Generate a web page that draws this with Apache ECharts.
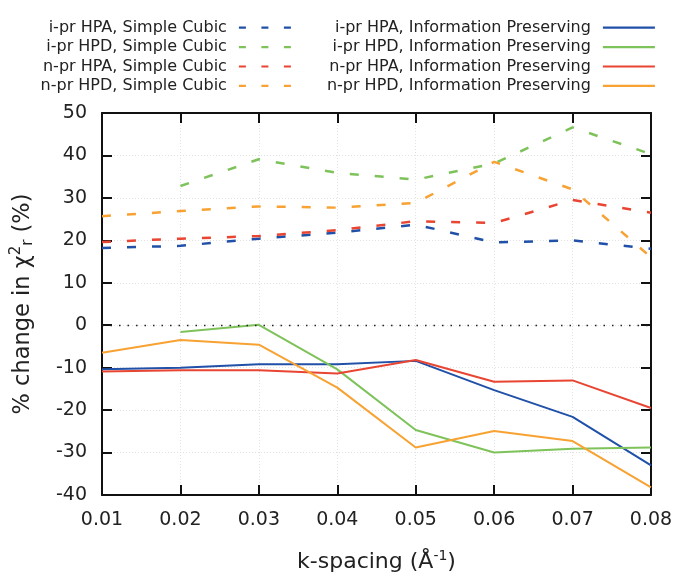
<!DOCTYPE html>
<html>
<head>
<meta charset="utf-8">
<script src="https://cdn.jsdelivr.net/npm/echarts@6/dist/echarts.min.js"></script>
<style>
  html, body { margin: 0; padding: 0; background: #fff; }
  #chart { width: 681px; height: 575px; }
</style>
</head>
<body>
<div id="chart"></div>
<script>
// k-spacing categories
var kSpacing = ['0.01', '0.02', '0.03', '0.04', '0.05', '0.06', '0.07', '0.08'];
var yTicks = [-40, -30, -20, -10, 0, 10, 20, 30, 40, 50];

// Simple Cubic (dashed)
var iprHpaSC = [18.2, 18.7, 20.4, 21.8, 23.7, 19.5, 20.0, 18.0];
var iprHpdSC = [null, 32.8, 39.1, 35.9, 34.3, 38.1, 46.6, 40.3];
var nprHpaSC = [19.6, 20.4, 21.0, 22.4, 24.5, 24.1, 29.5, 26.5];
var nprHpdSC = [25.7, 26.9, 28.0, 27.7, 28.8, 38.5, 32.0, 16.0];

// Information Preserving (solid)
var iprHpaIP = [-10.4, -10.0, -9.2, -9.2, -8.4, -15.3, -21.6, -33.0];
var iprHpdIP = [null, -1.6, 0.1, -10.4, -24.7, -30.0, -29.1, -28.8];
var nprHpaIP = [-10.9, -10.6, -10.6, -11.4, -8.2, -13.3, -13.0, -19.5];
var nprHpdIP = [-6.5, -3.5, -4.6, -14.7, -28.8, -24.9, -27.3, -38.2];

var BLUE = '#2050a8', GREEN = '#7ec25a', RED = '#e84532', ORANGE = '#f7a232';
var FONT = 'DejaVu Sans';

function dashed(name, data, color) {
    return {
        name: name, type: 'line', data: data, symbol: 'none',
        connectNulls: false,
        lineStyle: { color: color, width: 2.5, type: [9, 16] },
        itemStyle: { color: color }
    };
}
function solid(name, data, color) {
    return {
        name: name, type: 'line', data: data, symbol: 'none',
        connectNulls: false,
        lineStyle: { color: color, width: 2 },
        itemStyle: { color: color }
    };
}

var scNames = ['i-pr HPA, Simple Cubic', 'i-pr HPD, Simple Cubic', 'n-pr HPA, Simple Cubic', 'n-pr HPD, Simple Cubic'];
var ipNames = ['i-pr HPA, Information Preserving', 'i-pr HPD, Information Preserving', 'n-pr HPA, Information Preserving', 'n-pr HPD, Information Preserving'];

var series = [
    dashed(scNames[0], iprHpaSC, BLUE),
    dashed(scNames[1], iprHpdSC, GREEN),
    dashed(scNames[2], nprHpaSC, RED),
    dashed(scNames[3], nprHpdSC, ORANGE),
    solid(ipNames[0], iprHpaIP, BLUE),
    solid(ipNames[1], iprHpdIP, GREEN),
    solid(ipNames[2], nprHpaIP, RED),
    solid(ipNames[3], nprHpdIP, ORANGE)
];
// zero line
series[0].markLine = {
    silent: true, symbol: 'none', label: { show: false },
    lineStyle: { color: '#222', width: 1.3, type: [1.5, 7] },
    data: [{ yAxis: 0 }]
};

var legendCommon = {
    orient: 'vertical', align: 'right', top: 13,
    itemWidth: 52, itemHeight: 14, itemGap: 0,
    itemStyle: { opacity: 0 },
    textStyle: { fontFamily: FONT, fontSize: 16, color: '#222', lineHeight: 19.4, padding: [0, 7, 0, 0] }
};

var axisLineStyle = { onZero: false, lineStyle: { color: '#111', width: 2 } };
var tickStyle = { show: true, inside: true, length: 10, lineStyle: { color: '#111', width: 2 } };
var gridLine = { show: true, lineStyle: { color: '#e2e2e2', type: [1, 2] } };

var option = {
    backgroundColor: '#fff',
    animation: false,
    grid: { left: 102, right: 30, top: 113, bottom: 80, outerBoundsMode: 'none', containLabel: false },
    legend: [
        Object.assign({}, legendCommon, {
            right: 384,
            data: scNames.map(function (n) { return { name: n, lineStyle: { type: [7, 15.5], width: 2.2 } }; })
        }),
        Object.assign({}, legendCommon, {
            right: 20,
            data: ipNames.map(function (n) { return { name: n, lineStyle: { width: 2.2 } }; })
        })
    ],
    xAxis: [{
        type: 'category', data: kSpacing, boundaryGap: false,
        axisLine: axisLineStyle, axisTick: tickStyle,
        axisLabel: { fontFamily: FONT, fontSize: 19, color: '#222', margin: 16 },
        splitLine: gridLine,
        name: '{t|k-spacing (Å}{s|-1}{t|)}',
        nameLocation: 'middle', nameGap: 54,
        nameTextStyle: {
            rich: {
                t: { fontFamily: FONT, fontSize: 22, color: '#222' },
                s: { fontFamily: FONT, fontSize: 14, color: '#222', padding: [0, 0, 12, 0] }
            }
        }
    }, {
        type: 'category', data: kSpacing, boundaryGap: false, position: 'top',
        axisLine: axisLineStyle, axisTick: tickStyle, axisLabel: { show: false }, splitLine: { show: false }
    }],
    yAxis: [{
        type: 'value', min: -40, max: 50, interval: 10,
        axisLine: Object.assign({ show: true }, axisLineStyle), axisTick: tickStyle,
        axisLabel: { fontFamily: FONT, fontSize: 19, color: '#222', margin: 15 },
        splitLine: gridLine,
        name: '{t|% change in χ}{s|2}{b|r}{t| (%)}',
        nameLocation: 'middle', nameGap: 64, nameRotate: 90,
        nameTextStyle: {
            rich: {
                t: { fontFamily: FONT, fontSize: 22.5, color: '#222' },
                s: { fontFamily: FONT, fontSize: 15, color: '#222', padding: [0, 0, 14, 0] },
                b: { fontFamily: FONT, fontSize: 15, color: '#222', padding: [9, 0, 0, 0] }
            }
        }
    }, {
        type: 'value', min: -40, max: 50, interval: 10, position: 'right',
        axisLine: Object.assign({ show: true }, axisLineStyle), axisTick: tickStyle,
        axisLabel: { show: false }, splitLine: { show: false }
    }],
    series: series
};

var myChart = echarts.init(document.getElementById('chart'));
myChart.setOption(option);
</script>
</body>
</html>
